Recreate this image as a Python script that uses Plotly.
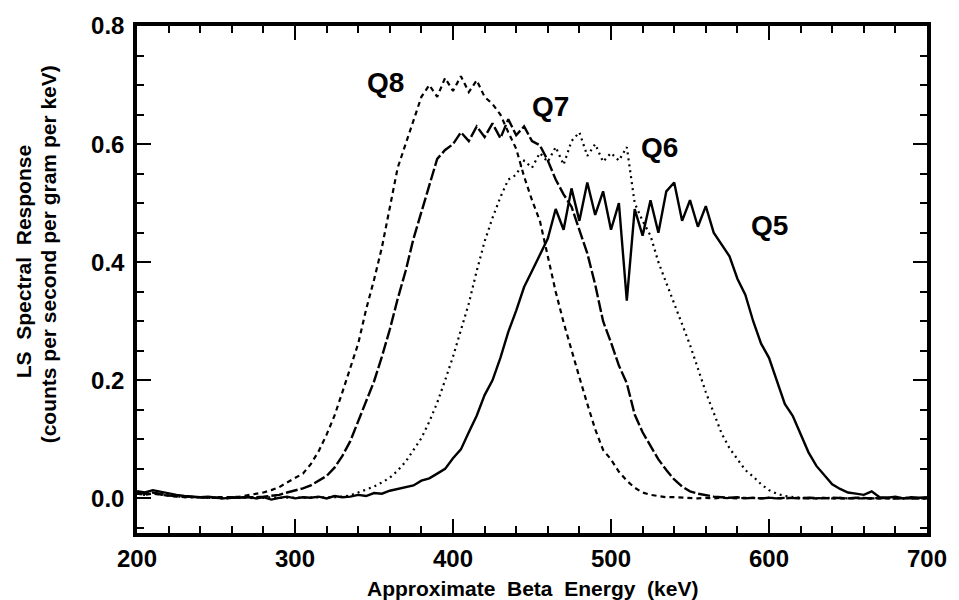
import plotly.graph_objects as go

# Energy grid (keV)
energy = list(range(200, 705, 5))

# LS spectral response, counts per second per gram per keV
q5 = [0.012, 0.010, 0.014, 0.011, 0.008, 0.006, 0.004, 0.003, 0.002, 0.003,
      0.001, 0.000, 0.002, 0.001, 0.003, 0.000, 0.002, -0.002, 0.001, 0.003,
      0.000, 0.002, 0.001, 0.003, 0.000, 0.004, 0.002, 0.003, 0.006, 0.004,
      0.009, 0.008, 0.013, 0.016, 0.020, 0.022, 0.030, 0.034, 0.042, 0.050,
      0.068, 0.083, 0.112, 0.140, 0.175, 0.200, 0.238, 0.282, 0.318, 0.358,
      0.385, 0.412, 0.440, 0.490, 0.455, 0.525, 0.470, 0.535, 0.480, 0.520,
      0.455, 0.500, 0.335, 0.490, 0.445, 0.505, 0.450, 0.520, 0.535, 0.470,
      0.505, 0.460, 0.495, 0.450, 0.430, 0.410, 0.372, 0.345, 0.300, 0.262,
      0.238, 0.200, 0.160, 0.140, 0.108, 0.078, 0.055, 0.040, 0.024, 0.016,
      0.010, 0.008, 0.006, 0.012, 0.002, 0.001, 0.003, 0.000, 0.002, 0.001,
      0.002]

q6 = [0.008, 0.006, 0.009, 0.006, 0.005, 0.003, 0.002, 0.002, 0.001, 0.001,
      0.001, 0.000, 0.001, 0.002, 0.001, 0.000, 0.001, 0.002, 0.001, 0.001,
      0.002, 0.001, 0.002, 0.002, 0.002, 0.002, 0.003, 0.005, 0.010, 0.015,
      0.020, 0.027, 0.035, 0.047, 0.062, 0.082, 0.102, 0.130, 0.162, 0.200,
      0.240, 0.285, 0.330, 0.385, 0.435, 0.475, 0.510, 0.540, 0.548, 0.572,
      0.560, 0.585, 0.570, 0.595, 0.565, 0.605, 0.620, 0.580, 0.600, 0.570,
      0.585, 0.572, 0.595, 0.500, 0.470, 0.445, 0.400, 0.365, 0.330, 0.295,
      0.260, 0.220, 0.180, 0.145, 0.110, 0.085, 0.066, 0.048, 0.037, 0.024,
      0.014, 0.008, 0.004, 0.002, 0.001, 0.001, 0.000, 0.001, 0.000, 0.001,
      0.000, 0.001, 0.000, 0.000, 0.001, 0.000, 0.000, 0.001, 0.000, 0.000,
      0.000]

q7 = [0.010, 0.008, 0.010, 0.007, 0.005, 0.004, 0.003, 0.002, 0.002, 0.001,
      0.001, 0.000, 0.001, 0.001, 0.002, 0.002, 0.003, 0.004, 0.006, 0.010,
      0.013, 0.017, 0.022, 0.030, 0.038, 0.052, 0.072, 0.097, 0.130, 0.164,
      0.198, 0.240, 0.286, 0.338, 0.385, 0.440, 0.485, 0.530, 0.575, 0.590,
      0.600, 0.620, 0.605, 0.630, 0.612, 0.635, 0.610, 0.642, 0.615, 0.630,
      0.605, 0.598, 0.572, 0.540, 0.515, 0.494, 0.455, 0.415, 0.362, 0.300,
      0.264, 0.225, 0.195, 0.142, 0.112, 0.088, 0.066, 0.048, 0.032, 0.020,
      0.012, 0.008, 0.005, 0.003, 0.002, 0.001, 0.002, 0.000, 0.001, 0.000,
      0.001, 0.000, 0.001, 0.000, 0.000, 0.001, 0.000, 0.000, 0.001, 0.000,
      0.000, 0.001, 0.000, 0.000, 0.000, 0.001, 0.000, 0.000, 0.000, 0.000,
      0.000]

q8 = [0.008, 0.006, 0.008, 0.006, 0.004, 0.003, 0.002, 0.002, 0.001, 0.001,
      0.002, 0.001, 0.002, 0.003, 0.005, 0.007, 0.010, 0.014, 0.019, 0.027,
      0.034, 0.042, 0.058, 0.080, 0.108, 0.140, 0.180, 0.220, 0.262, 0.320,
      0.370, 0.425, 0.495, 0.560, 0.600, 0.640, 0.680, 0.700, 0.680, 0.712,
      0.690, 0.715, 0.688, 0.708, 0.680, 0.668, 0.650, 0.620, 0.592, 0.545,
      0.505, 0.470, 0.410, 0.350, 0.298, 0.250, 0.205, 0.160, 0.117, 0.082,
      0.066, 0.045, 0.030, 0.018, 0.010, 0.006, 0.004, 0.002, 0.002, 0.001,
      0.001, 0.000, 0.001, 0.000, 0.001, 0.000, 0.000, 0.001, 0.000, 0.000,
      0.001, 0.000, 0.000, 0.001, 0.000, 0.000, 0.000, 0.001, 0.000, 0.000,
      0.000, 0.001, 0.000, 0.000, 0.000, 0.000, 0.001, 0.000, 0.000, 0.000,
      0.000]

# Curve labels and where they sit (keV, response)
label_text = ["Q8", "Q7", "Q6", "Q5"]
label_x = [357, 461.5, 531, 600.5]
label_y = [0.705, 0.664, 0.594, 0.462]

x_ticks = [200, 300, 400, 500, 600, 700]
y_ticks = [0.0, 0.2, 0.4, 0.6, 0.8]
y_ticktext = ["0.0", "0.2", "0.4", "0.6", "0.8"]

FONT = "Liberation Sans, Arial, Helvetica, sans-serif"
SP = "&nbsp; "  # wide word spacing used in the axis titles

fig = go.Figure()
styles = [
    (q5, "solid", 2.4),
    (q6, "2px,4px", 2.2),
    (q7, "12px,3px", 2.4),
    (q8, "5px,4px", 2.2),
]
for ys, dash, w in styles:
    fig.add_trace(go.Scatter(x=energy, y=ys, mode="lines",
                             line=dict(color="black", width=w, dash=dash),
                             showlegend=False, hoverinfo="skip"))

for t, xv, yv in zip(label_text, label_x, label_y):
    fig.add_annotation(x=xv, y=yv, text=t, showarrow=False,
                       font=dict(family=FONT, size=28, color="black", weight="bold"))

# Two-line y-axis title
fig.add_annotation(xref="paper", yref="paper", x=-0.1436, y=0.535,
                   xanchor="center", yanchor="middle",
                   text=SP.join(["LS", "Spectral", "Response"]),
                   textangle=-90, showarrow=False,
                   font=dict(family=FONT, size=21, color="black", weight="bold"))
fig.add_annotation(xref="paper", yref="paper", x=-0.1124, y=0.55,
                   xanchor="center", yanchor="middle",
                   text="(counts per second per gram per keV)", textangle=-90,
                   showarrow=False,
                   font=dict(family=FONT, size=21, color="black", weight="bold"))

# x-axis title
fig.add_annotation(xref="paper", yref="paper", x=0.5, y=-0.11,
                   xanchor="center", yanchor="middle",
                   text=SP.join(["Approximate", "Beta", "Energy", "(keV)"]),
                   showarrow=False,
                   font=dict(family=FONT, size=21, color="black", weight="bold"))

axis_common = dict(
    showline=True, linecolor="black", linewidth=3.5, mirror="allticks",
    ticks="inside", ticklen=14, tickwidth=2, tickcolor="black",
    showgrid=False, zeroline=False,
    tickfont=dict(family=FONT, size=24, color="black", weight="bold"),
)

fig.update_xaxes(range=[200, 700], tickvals=x_ticks,
                 minor=dict(dtick=20, ticks="inside", ticklen=7, tickwidth=2,
                            tickcolor="black", showgrid=False),
                 ticklabelstandoff=1,
                 **axis_common)
fig.update_yaxes(range=[-0.0586, 0.8], tickvals=y_ticks, ticktext=y_ticktext,
                 minor=dict(dtick=0.05, tick0=0, ticks="inside", ticklen=7, tickwidth=2,
                            tickcolor="black", showgrid=False),
                 ticklabelstandoff=4,
                 **axis_common)

fig.update_layout(width=959, height=600,
                  margin=dict(l=137, r=21, t=18, b=67),
                  plot_bgcolor="white", paper_bgcolor="white")

fig.write_html("out.html")
